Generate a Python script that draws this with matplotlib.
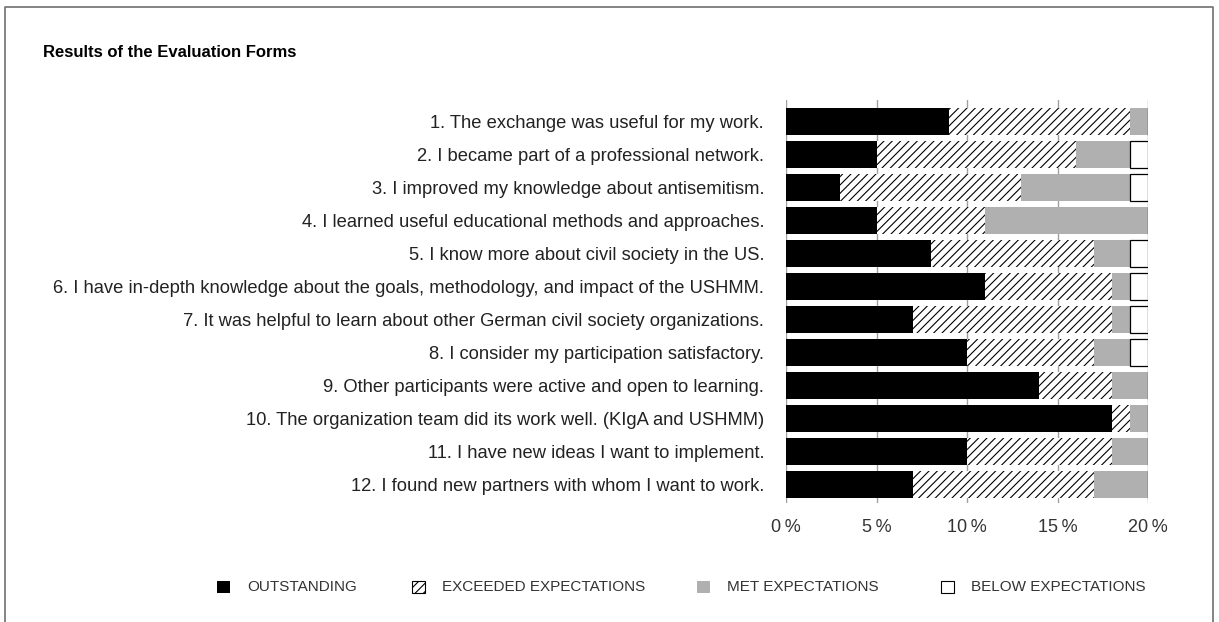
import matplotlib
matplotlib.use('Agg')
import matplotlib.pyplot as plt
from matplotlib.patches import Rectangle
from matplotlib.lines import Line2D
import numpy as np

plt.rcParams['font.family'] = ['Liberation Sans', 'DejaVu Sans']
plt.rcParams['hatch.linewidth'] = 0.8

# data (number of answers per category, axis labelled as in the original)
questions = [
    "1. The exchange was useful for my work.",
    "2. I became part of a professional network.",
    "3. I improved my knowledge about antisemitism.",
    "4. I learned useful educational methods and approaches.",
    "5. I know more about civil society in the US.",
    "6. I have in-depth knowledge about the goals, methodology, and impact of the USHMM.",
    "7. It was helpful to learn about other German civil society organizations.",
    "8. I consider my participation satisfactory.",
    "9. Other participants were active and open to learning.",
    "10. The organization team did its work well. (KIgA and USHMM)",
    "11. I have new ideas I want to implement.",
    "12. I found new partners with whom I want to work.",
]
outstanding = [9, 5, 3, 5, 8, 11, 7, 10, 14, 18, 10, 7]
exceeded = [10, 11, 10, 6, 9, 7, 11, 7, 4, 1, 8, 10]
met = [1, 3, 6, 9, 2, 1, 1, 2, 2, 1, 2, 3]
below = [0, 1, 1, 0, 1, 1, 1, 1, 0, 0, 0, 0]
categories = ["OUTSTANDING", "EXCEEDED EXPECTATIONS", "MET EXPECTATIONS", "BELOW EXPECTATIONS"]
xticks = [0, 5, 10, 15, 20]

W, H = 1219, 622
fig = plt.figure(figsize=(W / 100, H / 100), dpi=100)

# frame around the figure (left, top, right)
fig.add_artist(Line2D([5 / W, 5 / W, 1213 / W, 1213 / W], [0, 1 - 7 / H, 1 - 7 / H, 0],
                      transform=fig.transFigure, color='#707070', lw=1.2))

fig.text(43 / W, 1 - 57 / H, "Results of the Evaluation Forms", fontsize=12,
         fontweight='bold', va='baseline', ha='left')

ax = fig.add_axes([786 / W, 1 - 503 / H, (1148 - 786) / W, (503 - 100) / H])
y = np.arange(len(questions))
h = 0.82
series = [outstanding, exceeded, met, below]
styles = [dict(facecolor='black', edgecolor='black', linewidth=0),
          dict(facecolor='white', edgecolor='black', hatch='////', linewidth=0),
          dict(facecolor='#b0b0b0', edgecolor='#b0b0b0', linewidth=0),
          dict(facecolor='white', edgecolor='black', linewidth=0.9)]
left = np.zeros(len(questions))
for vals, st in zip(series, styles):
    vals = np.array(vals)
    ax.barh(y, vals, left=left, height=h, zorder=3, **st)
    left += vals

ax.set_xlim(0, 20)
ax.set_ylim(11.55, -0.65)
ax.set_xticks(xticks)
ax.set_xticklabels([f"{t}\u2009%" for t in xticks], fontsize=13, color='#333333')
ax.set_yticks(y)
ax.set_yticklabels(questions, fontsize=13.2, color='#222222')
ax.tick_params(length=0)
ax.tick_params(axis='y', pad=15.8)
ax.tick_params(axis='x', pad=11.5)
for s in ax.spines.values():
    s.set_visible(False)
ax.grid(axis='x', color='#a0a0a0', lw=1, zorder=0)
ax.set_axisbelow(True)

# legend drawn in figure coordinates
leg_x = [217, 412, 697, 941]
leg_y = 587
sq_w, sq_h = 13, 12
for x0, st, lab in zip(leg_x, styles, categories):
    st2 = dict(st)
    st2['linewidth'] = 0.8 if st2['edgecolor'] == 'black' and st2['facecolor'] == 'white' else 0
    fig.add_artist(Rectangle((x0 / W, 1 - (leg_y + sq_h / 2) / H), sq_w / W, sq_h / H,
                             transform=fig.transFigure, **st2))
    fig.text((x0 + 30) / W, 1 - leg_y / H, lab, fontsize=11, color='#333333',
             va='center', ha='left')

fig.savefig('out.png', dpi=100)
